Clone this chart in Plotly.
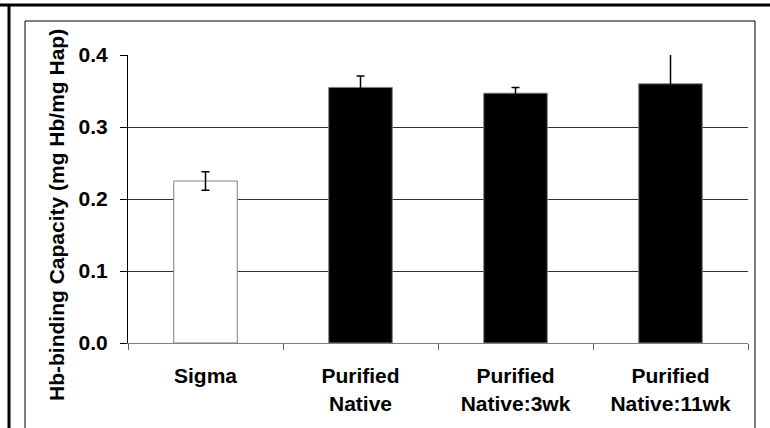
import plotly.graph_objects as go

categories = ["Sigma", "Purified<br>Native", "Purified<br>Native:3wk", "Purified<br>Native:11wk"]
values = [0.225, 0.355, 0.347, 0.360]
errors = [0.013, 0.016, 0.008, 0.043]
bar_colors = ["white", "black", "black", "black"]
y_ticks = [0.0, 0.1, 0.2, 0.3, 0.4]
y_tick_labels = ["0.0", "0.1", "0.2", "0.3", "0.4"]
y_title = "Hb-binding Capacity (mg Hb/mg Hap)"

W, H = 770, 428
L, R, T, B = 128, 748, 55, 343  # plot area in pixels


def px(x):
    return (x - L) / (R - L)


def py(y):
    return (B - y) / (B - T)


FONT = "Liberation Sans, Arial, sans-serif"

fig = go.Figure()
fig.add_trace(go.Bar(
    x=categories,
    y=values,
    marker=dict(color=bar_colors, line=dict(color="#808080", width=1)),
    error_y=dict(type="data", array=errors, visible=True, color="black",
                 thickness=1.5, width=4),
    showlegend=False,
))

shapes = [
    dict(type="line", xref="paper", yref="paper", x0=px(0), x1=px(W), y0=py(5), y1=py(5),
         line=dict(color="black", width=3)),
    dict(type="line", xref="paper", yref="paper", x0=px(9), x1=px(9), y0=py(5), y1=py(H + 5),
         line=dict(color="black", width=3)),
    dict(type="line", xref="paper", yref="paper", x0=px(25), x1=px(755), y0=py(21), y1=py(21),
         line=dict(color="black", width=1)),
    dict(type="line", xref="paper", yref="paper", x0=px(25), x1=px(25), y0=py(21), y1=py(H + 5),
         line=dict(color="black", width=1)),
    dict(type="line", xref="paper", yref="paper", x0=px(755), x1=px(755), y0=py(21), y1=py(H + 5),
         line=dict(color="black", width=1)),
]

fig.update_layout(
    width=W, height=H,
    margin=dict(l=L, r=W - R, t=T, b=H - B, pad=0),
    paper_bgcolor="white",
    plot_bgcolor="white",
    bargap=0.59,
    font=dict(family=FONT, color="black", size=20),
    shapes=shapes,
    annotations=[dict(
        text=y_title, textangle=-90, xref="paper", yref="paper",
        x=px(56), y=py(215), xanchor="center", yanchor="middle", showarrow=False,
        font=dict(family=FONT, size=21, color="black", weight="bold"),
    )],
)

fig.update_xaxes(
    type="category",
    showline=True, linecolor="#808080", linewidth=1,
    ticks="outside", ticklen=6, tickcolor="#606060", tickwidth=1,
    tickson="boundaries",
    ticklabelstandoff=14,
    tickfont=dict(family=FONT, size=21, color="black", weight="bold"),
    showgrid=False,
)
fig.update_yaxes(
    range=[0, 0.4],
    tickvals=y_ticks, ticktext=y_tick_labels,
    showline=True, linecolor="black", linewidth=1,
    ticks="outside", ticklen=7, tickcolor="black", tickwidth=1,
    ticklabelstandoff=8,
    tickfont=dict(family=FONT, size=21, color="black", weight="bold"),
    showgrid=True, gridcolor="#333333", gridwidth=1,
    zeroline=False,
)

fig.write_html("out.html")
